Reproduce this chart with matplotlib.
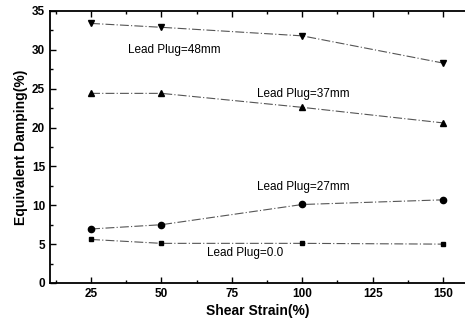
import numpy as np
import matplotlib
matplotlib.use("Agg")
import matplotlib.pyplot as plt
from matplotlib.ticker import MultipleLocator

plt.rcParams['font.family'] = ['Liberation Sans Narrow', 'Liberation Sans', 'DejaVu Sans']

strain = [25, 50, 100, 150]
plug48 = [33.4, 32.9, 31.8, 28.3]
plug37 = [24.4, 24.4, 22.6, 20.6]
plug27 = [6.95, 7.5, 10.1, 10.7]
plug0 = [5.6, 5.1, 5.1, 5.0]

fig = plt.figure(figsize=(4.65, 3.27), dpi=100)
ax = fig.add_axes([0.1075, 0.1346, 0.8925, 0.8318])

ls = (0, (8, 2, 1, 2))
lc = '#555555'
ax.plot(strain, plug48, color=lc, lw=0.8, ls=ls, marker='v', ms=5, mfc='k', mec='k')
ax.plot(strain, plug37, color=lc, lw=0.8, ls=ls, marker='^', ms=5, mfc='k', mec='k')
ax.plot(strain, plug27, color=lc, lw=0.8, ls=ls, marker='o', ms=4.5, mfc='k', mec='k')
ax.plot(strain, plug0, color=lc, lw=0.8, ls=ls, marker='s', ms=3.5, mfc='k', mec='k')

tk = dict(fontsize=8.5, va='center', ha='left')
ax.text(38, 30.0, 'Lead Plug=48mm', **tk)
ax.text(84, 24.3, 'Lead Plug=37mm', **tk)
ax.text(84, 12.35, 'Lead Plug=27mm', **tk)
ax.text(66, 3.85, 'Lead Plug=0.0', **tk)

ax.set_xlim(10.4, 157.8)
ax.set_ylim(0, 35)
ax.set_xticks([25, 50, 75, 100, 125, 150])
ax.xaxis.set_minor_locator(MultipleLocator(12.5))
ax.yaxis.set_minor_locator(MultipleLocator(2.5))
ax.tick_params(which='both', direction='in', top=True, right=False, width=1)
ax.tick_params(which='major', length=4, labelsize=8.5)
ax.tick_params(which='minor', length=2)
for lab in ax.get_xticklabels() + ax.get_yticklabels():
    lab.set_fontweight('bold')
ax.spines['right'].set_visible(False)
for s in ['left', 'bottom', 'top']:
    ax.spines[s].set_linewidth(1.3)

ax.set_xlabel('Shear Strain(%)', fontsize=10, fontweight='bold', labelpad=3)
ax.set_ylabel('Equivalent Damping(%)', fontsize=10, fontweight='bold', labelpad=3)

fig.savefig('out.png', dpi=100)
